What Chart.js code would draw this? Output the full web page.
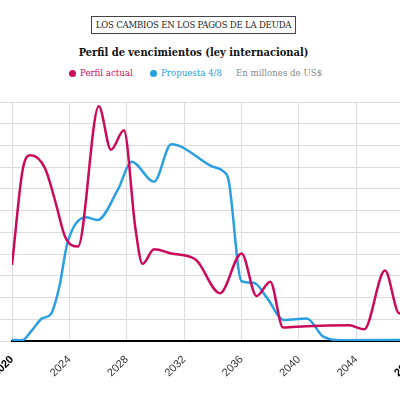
<!DOCTYPE html>
<html>
<head>
<meta charset="utf-8">
<script src="https://cdn.jsdelivr.net/npm/chart.js@4"></script>
<style>
  html, body { margin: 0; padding: 0; background: #fff; }
  body { width: 400px; height: 400px; overflow: hidden; position: relative; font-family: "DejaVu Serif Condensed", "DejaVu Serif", serif; }
  .kicker { position: absolute; left: 91px; top: 16px; width: 203px; height: 16px; border: 1px solid #444; text-align: center; font-size: 9.5px; line-height: 16px; color: #222; letter-spacing: -0.2px; }
  .title { position: absolute; left: 0; top: 46px; width: 387px; text-align: center; font-weight: bold; font-size: 11px; color: #111; }
  .legend { position: absolute; top: 67px; font-size: 9.6px; white-space: nowrap; }
  .dot { display: inline-block; width: 7px; height: 7px; border-radius: 50%; margin-right: 4px; vertical-align: -0.5px; }
  #wrap { position: absolute; left: -20px; top: 92px; width: 455px; height: 308px; }
</style>
</head>
<body>
<div class="kicker">LOS CAMBIOS EN LOS PAGOS DE LA DEUDA</div>
<div class="title">Perfil de vencimientos (ley internacional)</div>
<div class="legend" style="left:69px;color:#cc0a5c"><i class="dot" style="background:#cc0a5c"></i>Perfil actual</div>
<div class="legend" style="left:150px;color:#2a9fe2"><i class="dot" style="background:#2a9fe2"></i>Propuesta 4/8</div>
<div class="legend" style="left:236px;color:#888">En millones de US$</div>
<div id="wrap"><canvas id="lineChart"></canvas></div>
<script>
// valores (millones de US$)
const actualYears = [2020, 2020.75, 2021.3, 2022.3, 2023.05, 2023.7, 2024.6, 2026.05, 2026.9, 2027.8, 2028.6, 2029.1, 2029.9, 2031.1, 2032.8, 2034.5, 2036.0, 2037.05, 2038.0, 2038.9, 2040.5, 2043.5, 2044.55, 2046.0, 2047.0, 2048.0];
const actualValues = [3500, 7900, 8550, 7950, 6350, 4800, 4350, 10800, 8800, 9700, 5200, 3550, 4220, 4030, 3750, 2200, 4030, 2070, 2730, 620, 680, 720, 540, 3240, 1270, 2600];

const propYears = [2020, 2020.7, 2021.4, 2022.1, 2022.7, 2023.3, 2023.86, 2025.14, 2025.96, 2027.37, 2028.35, 2029.9, 2031.1, 2033.9, 2034.75, 2035.1, 2036.0, 2036.85, 2037.8, 2038.95, 2040.55, 2041.7, 2043.0, 2048.0];
const propValues = [50, 30, 500, 1040, 1230, 2500, 4500, 5690, 5570, 6950, 8250, 7330, 9050, 8050, 7800, 7400, 2750, 2680, 1960, 970, 1040, 200, 30, 60];

const tickYears = [2020, 2024, 2028, 2032, 2036, 2040, 2044, 2048];

function makePoints(xs, ys) {
  return xs.map((x, i) => ({ x: x, y: ys[i] }));
}

function makeLineChart() {
  const ctx = document.getElementById('lineChart').getContext('2d');
  new Chart(ctx, {
    type: 'line',
    data: {
      datasets: [{
        label: 'Perfil actual',
        data: makePoints(actualYears, actualValues),
        borderColor: '#cc0a5c',
        borderWidth: 2.5,
        pointRadius: 0,
        cubicInterpolationMode: 'monotone'
      }, {
        label: 'Propuesta 4/8',
        data: makePoints(propYears, propValues),
        borderColor: '#2a9fe2',
        borderWidth: 2.5,
        pointRadius: 0,
        cubicInterpolationMode: 'monotone'
      }]
    },
    options: {
      responsive: true,
      maintainAspectRatio: false,
      animation: false,
      layout: { padding: { top: 10 } },
      plugins: { legend: { display: false }, tooltip: { enabled: false } },
      scales: {
        x: {
          type: 'linear',
          min: 2020,
          max: 2048,
          afterBuildTicks: (scale) => { scale.ticks = tickYears.map(v => ({ value: v })); },
          afterFit: (scale) => { scale.height = 59; },
          grid: { color: '#dcdcdc', drawTicks: false },
          border: { color: '#000', width: 2 },
          ticks: {
            minRotation: 45,
            maxRotation: 45,
            padding: 12,
            color: (c) => (c.index === 0 || c.index === tickYears.length - 1) ? '#000' : '#333',
            font: (c) => ({
              family: 'Liberation Sans',
              size: 11,
              weight: (c.index === 0 || c.index === tickYears.length - 1) ? 'bold' : 'normal'
            }),
            callback: (v) => String(v)
          }
        },
        y: {
          min: 0,
          max: 11000,
          afterFit: (scale) => { scale.width = 32; },
          grid: { color: '#dcdcdc', tickLength: 32 },
          border: { display: false },
          ticks: { display: false, stepSize: 1000 }
        }
      }
    }
  });
}

document.addEventListener("DOMContentLoaded", () => makeLineChart());
</script>
</body>
</html>
